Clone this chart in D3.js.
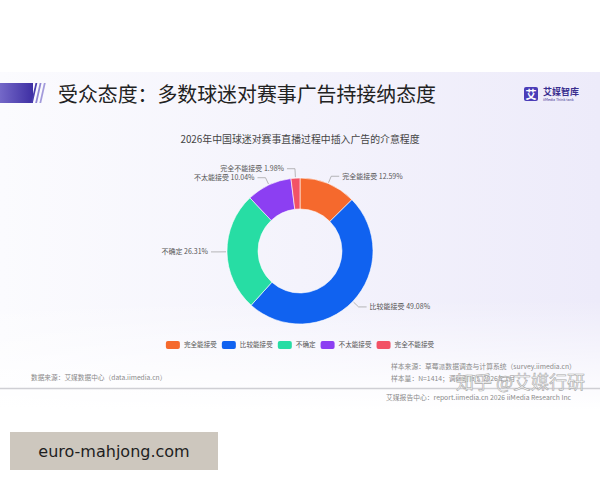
<!DOCTYPE html>
<html>
<head>
<meta charset="utf-8">
<script src="https://cdn.jsdelivr.net/npm/d3@7"></script>
<style>
  body { margin: 0; background: #fff; }
  svg { display: block; font-family: "Noto Sans CJK SC", "Noto Sans", sans-serif; }
</style>
</head>
<body>
<svg id="chart" width="600" height="480"></svg>
<script>
// data
var categories = ["完全能接受", "比较能接受", "不确定", "不太能接受", "完全不能接受"];
var shares = [12.59, 49.08, 26.31, 10.04, 1.98];
var colors = ["#F5692D", "#1062F0", "#27DDA4", "#8C3FF2", "#F25266"];

var pageTitle = "受众态度：多数球迷对赛事广告持接纳态度";
var chartTitle = "2026年中国球迷对赛事直播过程中插入广告的介意程度";

var svg = d3.select("#chart");
var defs = svg.append("defs");

// slide background
var bg = defs.append("linearGradient").attr("id", "bg").attr("x1", 0).attr("x2", 1).attr("y1", 0).attr("y2", 0);
bg.append("stop").attr("offset", "0%").attr("stop-color", "#FBFBFE");
bg.append("stop").attr("offset", "100%").attr("stop-color", "#EDEBFA");
var fade = defs.append("linearGradient").attr("id", "fade").attr("x1", 0).attr("x2", 0).attr("y1", 0).attr("y2", 1);
fade.append("stop").attr("offset", "0%").attr("stop-color", "#fff").attr("stop-opacity", 0);
fade.append("stop").attr("offset", "100%").attr("stop-color", "#fff").attr("stop-opacity", 1);

svg.append("rect").attr("x", 0).attr("y", 72).attr("width", 600).attr("height", 338).attr("fill", "url(#bg)");
svg.append("rect").attr("x", 0).attr("y", 300).attr("width", 600).attr("height", 110).attr("fill", "url(#fade)");

// header bar
var bar = defs.append("linearGradient").attr("id", "bar").attr("x1", 0).attr("x2", 1).attr("y1", 0).attr("y2", 0);
bar.append("stop").attr("offset", "0%").attr("stop-color", "#7468C8");
bar.append("stop").attr("offset", "100%").attr("stop-color", "#3E2FA3");
svg.append("rect").attr("x", 0).attr("y", 83).attr("width", 33).attr("height", 20).attr("fill", "url(#bar)");
[0, 1, 2].forEach(function(i) {
    var x0 = 31 + i * 4.2;
    svg.append("path")
        .attr("d", `M${x0},103 L${x0 + 4.5},83 L${x0 + 6.3},83 L${x0 + 1.8},103 Z`)
        .attr("fill", i === 0 ? "#4A3DAE" : "#7D72CC")
        .attr("opacity", 1 - i * 0.15);
});
svg.append("text")
    .attr("x", 58).attr("y", 102)
    .attr("font-size", 19.9).attr("fill", "#222")
    .text(pageTitle);

// logo
svg.append("rect").attr("x", 524).attr("y", 87).attr("width", 14).attr("height", 14).attr("rx", 2).attr("fill", "#4B3DB8");
svg.append("text").attr("x", 531).attr("y", 98.5).attr("text-anchor", "middle")
    .attr("font-size", 11).attr("font-weight", "bold").attr("fill", "#fff").text("艾");
svg.append("text").attr("x", 543).attr("y", 95).attr("font-size", 9).attr("font-weight", "bold")
    .attr("fill", "#3A2F8F").text("艾媒智库");
svg.append("text").attr("x", 543).attr("y", 100.5).attr("font-size", 3.6)
    .attr("fill", "#3A2F8F").text("iiMedia Think tank");

// chart title
svg.append("text")
    .attr("x", 300).attr("y", 143)
    .attr("text-anchor", "middle")
    .attr("font-size", 9.9).attr("fill", "#444")
    .text(chartTitle);

// donut
var cx = 300, cy = 251, outerR = 73, innerR = 42;
var pie = d3.pie().sort(null).value(d => d);
var arcs = pie(shares);
var arc = d3.arc().innerRadius(innerR).outerRadius(outerR);

var g = svg.append("g").attr("transform", `translate(${cx},${cy})`);
g.selectAll("path.slice")
    .data(arcs)
    .join("path")
    .attr("class", "slice")
    .attr("d", arc)
    .attr("fill", (d, i) => colors[i])
    .attr("stroke", "#fff")
    .attr("stroke-width", 0.6);

// labels with leader lines
function polar(a, r) { return [Math.sin(a) * r, -Math.cos(a) * r]; }
var labels = arcs.map(function(d, i) {
    var mid = (d.startAngle + d.endAngle) / 2;
    var p0 = polar(mid, outerR + 1);
    var p1 = polar(mid, outerR + 8);
    return { i: i, p0: p0, p1: p1, right: p1[0] >= 0 };
});
// nudge labels on the same side apart so they don't touch
[true, false].forEach(function(side) {
    var list = labels.filter(l => l.right === side).sort((a, b) => b.p1[1] - a.p1[1]);
    for (var k = 1; k < list.length; k++) {
        if (list[k - 1].p1[1] - list[k].p1[1] < 9) list[k].p1 = [list[k].p1[0], list[k - 1].p1[1] - 9];
    }
});
labels.forEach(function(l) {
    var p2 = [l.p1[0] + (l.right ? 8 : -8), l.p1[1]];
    g.append("polyline")
        .attr("points", [l.p0, l.p1, p2].map(p => p.join(",")).join(" "))
        .attr("fill", "none")
        .attr("stroke", "#999")
        .attr("stroke-width", 0.7);
    g.append("text")
        .attr("x", p2[0] + (l.right ? 3 : -3))
        .attr("y", p2[1])
        .attr("dy", "0.35em")
        .attr("text-anchor", l.right ? "start" : "end")
        .attr("font-size", 7).attr("fill", "#555")
        .text(categories[l.i] + " " + shares[l.i].toFixed(2) + "%");
});

// legend, centred under the donut
var legend = svg.append("g").attr("transform", "translate(0,345)");
var items = legend.selectAll("g")
    .data(categories)
    .join("g");
items.append("rect")
    .attr("y", -4).attr("width", 14).attr("height", 8).attr("rx", 2)
    .attr("fill", (d, i) => colors[i]);
items.append("text")
    .attr("x", 18).attr("dy", "0.35em")
    .attr("font-size", 6.6).attr("fill", "#555")
    .text(d => d);
var xPos = 0;
items.each(function() {
    var w = 18 + d3.select(this).select("text").node().getComputedTextLength();
    d3.select(this).attr("transform", `translate(${xPos},0)`);
    xPos += w + 5;
});
var total = xPos - 5;
legend.attr("transform", `translate(${300 - total / 2},345)`);

// footer
var foot = "#8A8A8A";
svg.append("text").attr("x", 31).attr("y", 380).attr("font-size", 6.7).attr("fill", foot)
    .text("数据来源：艾媒数据中心（data.iimedia.cn）");
svg.append("text").attr("x", 391).attr("y", 369).attr("font-size", 6.8).attr("fill", foot)
    .text("样本来源：草莓派数据调查与计算系统（survey.iimedia.cn）");
svg.append("text").attr("x", 391).attr("y", 381).attr("font-size", 6.8).attr("fill", foot)
    .text("样本量：N=1414；调研时间：2026年1月");
svg.append("line").attr("x1", 0).attr("x2", 600).attr("y1", 388.5).attr("y2", 388.5)
    .attr("stroke", "#CFCFD4").attr("stroke-width", 1.5);
svg.append("text").attr("x", 386).attr("y", 400).attr("font-size", 6.8).attr("fill", foot)
    .text("艾媒报告中心：report.iimedia.cn   2026 iiMedia Research Inc");

// watermark
svg.append("text").attr("x", 456).attr("y", 389).attr("font-size", 18)
    .attr("fill", "#fff").attr("fill-opacity", 0.85)
    .attr("stroke", "#A8A8A8").attr("stroke-width", 0.6)
    .text("知乎 @艾媒行研");

// site tag
svg.append("rect").attr("x", 10).attr("y", 432).attr("width", 208).attr("height", 38).attr("fill", "#CDC7BE");
svg.append("text").attr("x", 114).attr("y", 451).attr("dy", "0.35em").attr("text-anchor", "middle")
    .attr("font-family", "DejaVu Sans, sans-serif")
    .attr("font-size", 16).attr("fill", "#1E1E1E")
    .text("euro-mahjong.com");
</script>
</body>
</html>
